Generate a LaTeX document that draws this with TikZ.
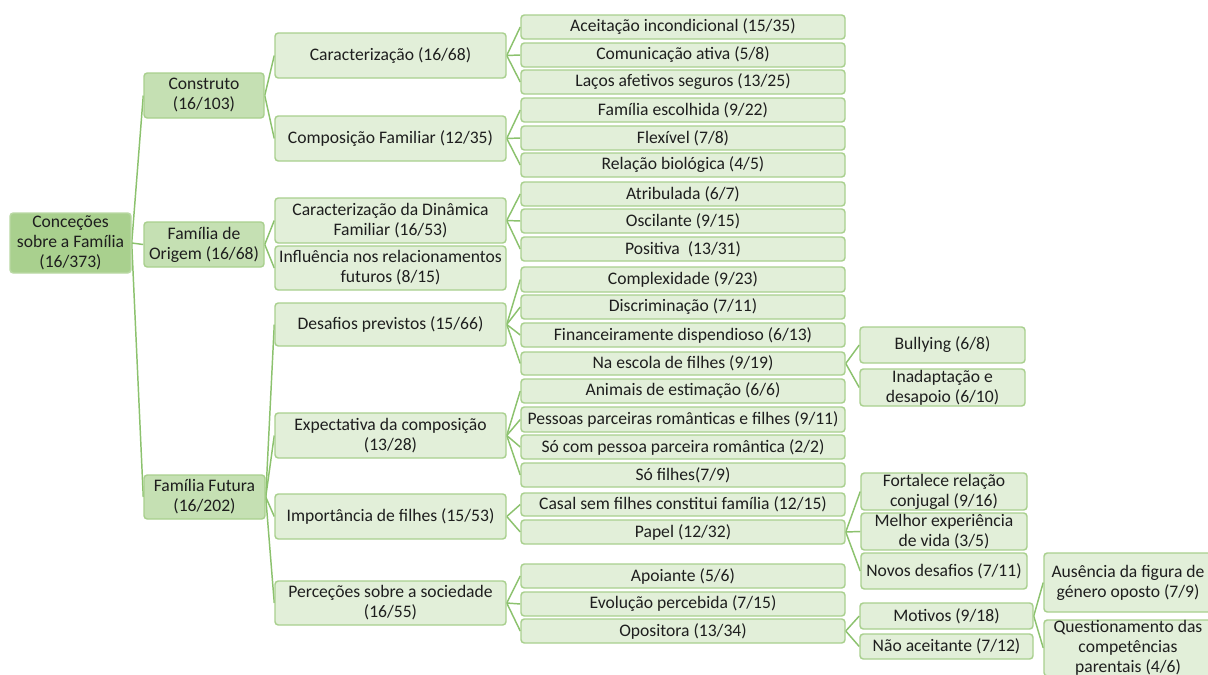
\documentclass[tikz,border=0pt]{standalone}
\usepackage{fontspec}
\setmainfont{Carlito}
\usetikzlibrary{backgrounds}
\definecolor{rootfill}{HTML}{A9D08E}
\definecolor{lonefill}{HTML}{C5E0B3}
\definecolor{boxfill}{HTML}{E2EFD9}
\definecolor{boxdraw}{HTML}{A9D08E}
\definecolor{linkc}{HTML}{8CC26E}
\definecolor{txt}{HTML}{1E1E1E}
\tikzset{
  bx/.style={draw=boxdraw, fill=boxfill, line width=1.1pt, rounded corners=2.5pt,
    inner sep=0pt, align=center, text=txt, font=\fontsize{13.2}{15}\selectfont},
  rootbx/.style={bx, fill=rootfill, draw=rootfill!80!white},
  lonebx/.style={bx, fill=lonefill, draw=boxdraw},
  link/.style={draw=linkc, line width=1.1pt},
}
\newcommand\mybox[7][bx]{\node[#1, minimum width={(#5-#3)*0.75pt}, minimum height={(#6-#4)*0.75pt}] (#2) at ({(#3+#5)/2},{(#4+#6)/2}) {#7};}
\begin{document}
\begin{tikzpicture}[x=0.75pt,y=-0.75pt]
\useasboundingbox (0,0) rectangle (1208,675);
\clip (0,0) rectangle (1208,675);
% root and level 1
\mybox[rootbx]{root}{10}{213}{131}{273}{Conceções\\sobre a Família\\(16/373)}
\mybox[lonebx]{constr}{144}{73}{264}{118}{Construto\\(16/103)}
\mybox[lonebx]{origem}{144}{222}{264}{267}{Família de\\Origem (16/68)}
\mybox[lonebx]{futura}{144}{475}{265}{519}{Família Futura\\(16/202)}
% level 2
\mybox{carac}{275}{33}{506}{78}{Caracterização (16/68)}
\mybox{compo}{275}{116}{506}{161}{Composição Familiar (12/35)}
\mybox{dinam}{275}{198}{506}{243}{Caracterização da Dinâmica\\Familiar (16/53)}
\mybox{influ}{275}{246}{506}{290}{Influência nos relacionamentos\\futuros (8/15)}
\mybox{desaf}{275}{303}{506}{346}{Desafios previstos (15/66)}
\mybox{expec}{275}{413}{506}{458}{Expectativa da composição\\(13/28)}
\mybox{impor}{275}{494}{506}{539}{Importância de filhes (15/53)}
\mybox{perce}{275}{581}{506}{625}{Perceções sobre a sociedade\\(16/55)}
% level 3
\mybox{a1}{521}{15}{845}{39}{Aceitação incondicional (15/35)}
\mybox{a2}{521}{43}{845}{67}{Comunicação ativa (5/8)}
\mybox{a3}{521}{70}{845}{94}{Laços afetivos seguros (13/25)}
\mybox{b1}{521}{98}{845}{122}{Família escolhida (9/22)}
\mybox{b2}{521}{126}{845}{150}{Flexível (7/8)}
\mybox{b3}{521}{153}{845}{177}{Relação biológica (4/5)}
\mybox{c1}{521}{182}{845}{206}{Atribulada (6/7)}
\mybox{c2}{521}{209}{845}{233}{Oscilante (9/15)}
\mybox{c3}{521}{237}{845}{261}{Positiva\ \ (13/31)}
\mybox{d1}{521}{267}{845}{292}{Complexidade (9/23)}
\mybox{d2}{521}{295}{845}{319}{Discriminação (7/11)}
\mybox{d3}{521}{323}{845}{347}{Financeiramente dispendioso (6/13)}
\mybox{d4}{521}{352}{845}{375}{Na escola de filhes (9/19)}
\mybox{e1}{521}{379}{845}{403}{Animais de estimação (6/6)}
\mybox{e2}{521}{407}{845}{432}{Pessoas parceiras românticas e filhes (9/11)}
\mybox{e3}{521}{435}{845}{459}{Só com pessoa parceira romântica (2/2)}
\mybox{e4}{521}{463}{845}{487}{Só filhes(7/9)}
\mybox{f1}{521}{493}{845}{516}{Casal sem filhes constitui família (12/15)}
\mybox{f2}{521}{520}{845}{544}{Papel (12/32)}
\mybox{g1}{521}{564}{845}{588}{Apoiante (5/6)}
\mybox{g2}{521}{592}{845}{616}{Evolução percebida (7/15)}
\mybox{g3}{521}{619}{845}{643}{Opositora (13/34)}
% level 4
\mybox{h1}{860}{327}{1025}{363}{Bullying (6/8)}
\mybox{h2}{860}{369}{1025}{406}{Inadaptação e\\desapoio (6/10)}
\mybox{i1}{861}{473}{1027}{510}{Fortalece relação\\conjugal (9/16)}
\mybox{i2}{861}{513}{1027}{550}{Melhor experiência\\de vida (3/5)}
\mybox{i3}{861}{553}{1027}{589}{Novos desafios (7/11)}
\mybox{j1}{860}{603}{1033}{629}{Motivos (9/18)}
\mybox{j2}{860}{634}{1033}{659}{Não aceitante (7/12)}
% level 5
\mybox{k1}{1044}{553}{1212}{612}{Ausência da figura de\\género oposto (7/9)}
\mybox{k2}{1044}{620}{1212}{676}{Questionamento das\\competências\\parentais (4/6)}
% connectors
\begin{pgfonlayer}{background}
\fill[white] (0,0) rectangle (1208,675);
\foreach \c in {constr,origem,futura} \draw[link] (root.east) -- (\c.west);
\foreach \c in {carac,compo} \draw[link] (constr.east) -- (\c.west);
\foreach \c in {dinam,influ} \draw[link] (origem.east) -- (\c.west);
\foreach \c in {desaf,expec,impor,perce} \draw[link] (futura.east) -- (\c.west);
\foreach \c in {a1,a2,a3} \draw[link] (carac.east) -- (\c.west);
\foreach \c in {b1,b2,b3} \draw[link] (compo.east) -- (\c.west);
\foreach \c in {c1,c2,c3} \draw[link] (dinam.east) -- (\c.west);
\foreach \c in {d1,d2,d3,d4} \draw[link] (desaf.east) -- (\c.west);
\foreach \c in {e1,e2,e3,e4} \draw[link] (expec.east) -- (\c.west);
\foreach \c in {f1,f2} \draw[link] (impor.east) -- (\c.west);
\foreach \c in {g1,g2,g3} \draw[link] (perce.east) -- (\c.west);
\foreach \c in {h1,h2} \draw[link] (d4.east) -- (\c.west);
\foreach \c in {i1,i2,i3} \draw[link] (f2.east) -- (\c.west);
\foreach \c in {j1,j2} \draw[link] (g3.east) -- (\c.west);
\foreach \c in {k1,k2} \draw[link] (j1.east) -- (\c.west);
\end{pgfonlayer}
\end{tikzpicture}
\end{document}
